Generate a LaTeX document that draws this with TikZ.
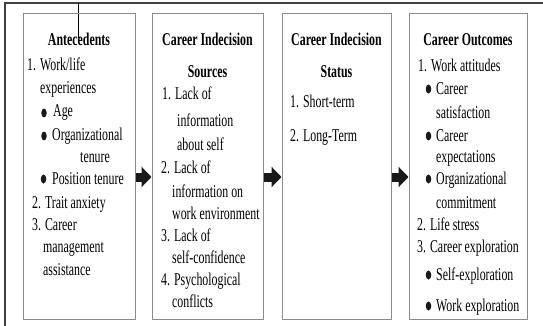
\documentclass[tikz,border=0pt]{standalone}
\usepackage{fontspec}
\setmainfont[FakeStretch=0.66]{Liberation Serif}
\usetikzlibrary{arrows.meta,shapes.geometric}

\begin{document}
\begin{tikzpicture}[x=1pt,y=-1pt,
  font=\fontsize{18}{22}\selectfont,
  box/.style={draw=black!45,line width=1pt,minimum width=#1,minimum height=305pt,inner sep=0pt},
  flow/.style={line width=9pt,black!90,-{Triangle[length=10pt,width=20pt]}},
  txt/.style={anchor=base west,inner sep=0pt},
  dot/.style={ellipse,fill=black!90,inner sep=0pt,minimum width=5.5pt,minimum height=9pt},
  head/.style={anchor=base,inner sep=0pt,font=\fontsize{18}{22}\selectfont\bfseries}]
\useasboundingbox (0,0) rectangle (543,326);

% outer frame and the stray tick
\draw[line width=1.5pt,black!75] (543,3) -- (5,3) -- (5,326);
\draw[line width=1pt] (78,3) -- (78,38);

% the four stages
\node[box=112pt] (ante) at (79,166.5) {};
\node[box=111pt] (src) at (207.5,166.5) {};
\node[box=109pt] (stat) at (336.5,166.5) {};
\node[box=118pt] (outc) at (468,166.5) {};

\node[head] (ante-h) at (ante.north |- 0,46) {Antecedents};
\node[head] (src-h) at (src.north |- 0,46) {Career Indecision};
\node[head] (src-h2) at (src.north |- 0,78) {Sources};
\node[head] (stat-h) at (stat.north |- 0,46) {Career Indecision};
\node[head] (stat-h2) at (stat.north |- 0,78) {Status};
\node[head] (outc-h) at (outc.north |- 0,46) {Career Outcomes};

\foreach \x/\y/\t [count=\i] in {27/71/{1. Work/life}, 40/94/experiences,
    53/117/Age, 52/140/Organizational, 80/162/tenure, 52/184/Position tenure,
    32/208/2. Trait anxiety, 32/230/3. Career, 43/252/management, 43/275/assistance}
  \node[txt] (ante-\i) at (\x,\y) {\t};

\foreach \x/\y/\t [count=\i] in {162/100/1. Lack of, 177/126/information,
    177/150/about self, 161/173/2. Lack of, 172/197/information on,
    172/219/work environment, 161/241/3. Lack of, 172/263/self-confidence,
    161/285/4. Psychological, 172/307/conflicts}
  \node[txt] (src-\i) at (\x,\y) {\t};

\foreach \x/\y/\t [count=\i] in {290/108/1. Short-term, 290/141/2. Long-Term}
  \node[txt] (stat-\i) at (\x,\y) {\t};

\foreach \x/\y/\t [count=\i] in {418/72/1. Work attitudes,
    436/95/Career, 436/118/satisfaction, 436/142/Career, 436/162/expectations,
    436/184/Organizational, 436/208/commitment,
    417/230/2. Life stress, 417/252/3. Career exploration,
    436/280/Self-exploration, 436/311/Work exploration}
  \node[txt] (outc-\i) at (\x,\y) {\t};

% bullets
\foreach \x/\y [count=\i] in {44/113, 44/136, 43.5/179, 428.5/89, 428.5/136,
    428.5/179, 428.5/275, 428.5/306}
  \node[dot] (dot-\i) at (\x,\y) {};

% block arrows
\draw[flow] ([yshift=-10.5pt]ante.east) -- ([yshift=-10.5pt]src.west);
\draw[flow] ([yshift=-10.5pt]src.east) -- ([yshift=-10.5pt]stat.west);
\draw[flow] ([yshift=-10.5pt]stat.east) -- ([yshift=-10.5pt]outc.west);
\end{tikzpicture}
\end{document}
